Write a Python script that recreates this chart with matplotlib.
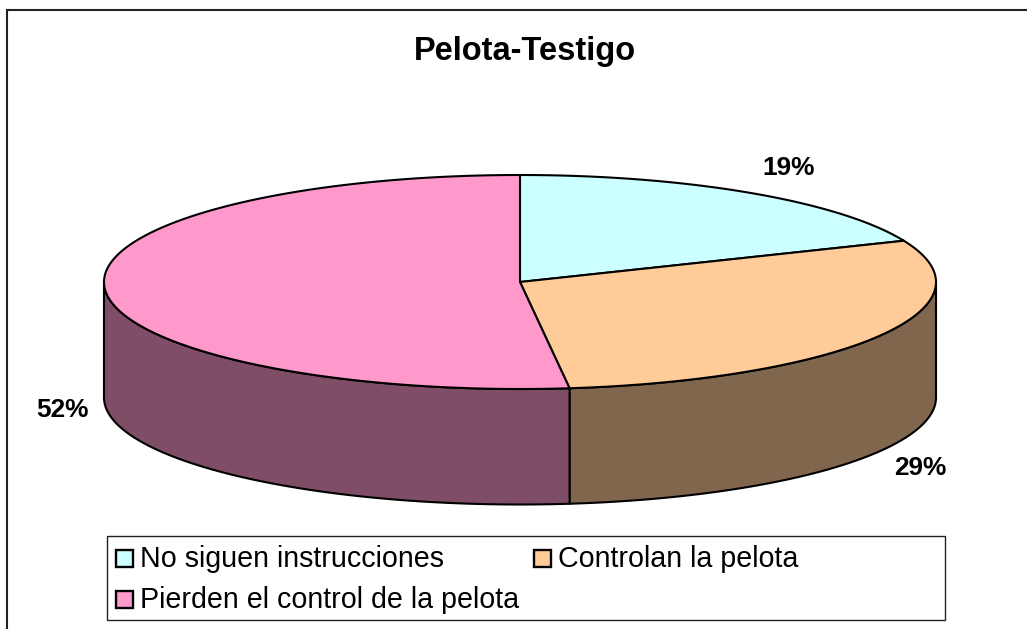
import numpy as np
import matplotlib
matplotlib.use("Agg")
import matplotlib.pyplot as plt
from matplotlib.patches import Rectangle

plt.rcParams['font.family'] = ['Liberation Sans', 'DejaVu Sans']

title = "Pelota-Testigo"
categories = ["No siguen instrucciones", "Controlan la pelota", "Pierden el control de la pelota"]
values = [18.7, 29.4, 51.9]
top_colors = ["#CCFFFF", "#FFCC99", "#FF99CC"]
side_colors = ["#7A9999", "#80664D", "#804D66"]

W, H = 1027, 629
cx, cy, rx, ry, depth = 520, 282, 416, 107, 115.5

fig = plt.figure(figsize=(W / 100, H / 100), dpi=100, facecolor="white")
ax = fig.add_axes([0, 0, 1, 1])
ax.set_xlim(0, W)
ax.set_ylim(H, 0)
ax.axis("off")

ax.add_patch(Rectangle((7, 10), W + 50, H + 50, fc="white", ec="#222222", lw=1.5, clip_on=True))

def pt(a, dy=0.0):
    a = np.asarray(a, dtype=float)
    return cx + rx * np.sin(a), cy - ry * np.cos(a) + dy

cum = np.concatenate([[0], np.cumsum(values)]) / sum(values) * 2 * np.pi

for i in range(len(values)):
    a0, a1 = max(cum[i], np.pi / 2), min(cum[i + 1], 3 * np.pi / 2)
    if a1 <= a0:
        continue
    t = np.linspace(a0, a1, 200)
    x, y = pt(t)
    xb, yb = pt(t[::-1], depth)
    ax.fill(np.r_[x, xb], np.r_[y, yb], fc=side_colors[i], ec="black", lw=1.5, joinstyle="round", zorder=2)

for i in range(len(values)):
    t = np.linspace(cum[i], cum[i + 1], 300)
    x, y = pt(t)
    ax.fill(np.r_[cx, x], np.r_[cy, y], fc=top_colors[i], ec="black", lw=1.5, joinstyle="round", zorder=3)

bold = dict(fontsize=18.9, fontweight="bold", ha="center", va="baseline", color="black")
ax.text(524.5, 60, title, fontsize=23.5, fontweight="bold", ha="center", va="baseline")
label_pos = [(789, 175), (920, 475), (62, 417)]
for v, (lx, ly) in zip(values, label_pos):
    ax.text(lx, ly, f"{round(v)}%", **bold)

ax.add_patch(Rectangle((106.5, 536), 838, 84, fc="white", ec="#222222", lw=1, zorder=4))
leg_pos = [(116, 558), (534, 558), (116, 599)]
for c, name, (lx, ly) in zip(top_colors, categories, leg_pos):
    ax.add_patch(Rectangle((lx, ly - 8.5), 17, 17, fc=c, ec="black", lw=1.7, zorder=5))
    ax.text(lx + 24.5, ly + 9, name, fontsize=20.6, ha="left", va="baseline", zorder=5)

fig.savefig("out.png", dpi=100)
